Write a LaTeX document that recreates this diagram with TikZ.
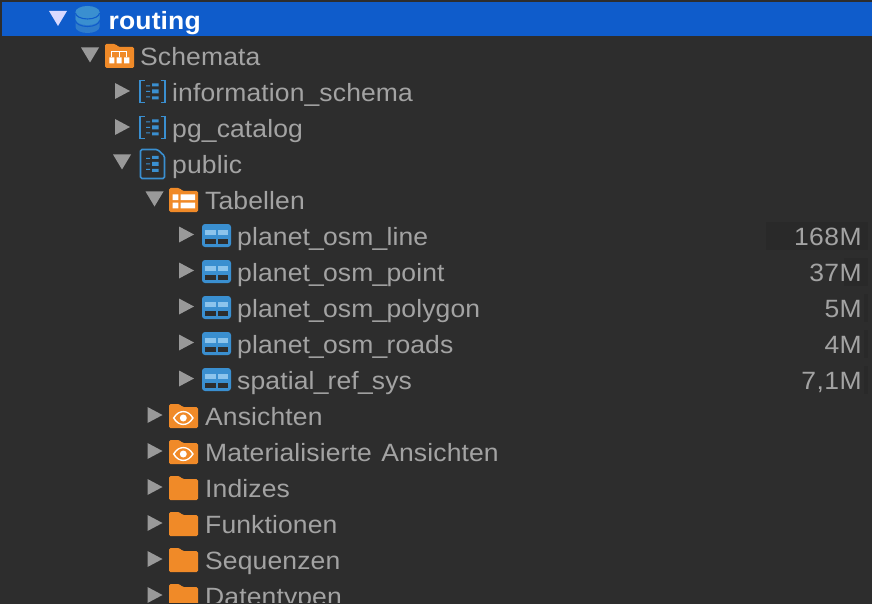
\documentclass[tikz,border=0pt]{standalone}
\usepackage{fontspec}
\setmainfont[FakeStretch=1.06,LetterSpace=0.5]{Liberation Sans}
\newfontfamily\numfont[FakeStretch=1.06,LetterSpace=2]{Liberation Sans}
\newcommand{\usc}{\kern-0.8pt\_\kern-0.8pt}
\definecolor{bg}{HTML}{2D2D2D}
\definecolor{sel}{HTML}{0F5CCB}
\definecolor{txt}{HTML}{A3A3A3}
\definecolor{tri}{HTML}{999999}
\definecolor{org}{HTML}{F08A28}
\definecolor{blu}{HTML}{3A8FD0}
\definecolor{dblu}{HTML}{2F7CCB}
\definecolor{lblu}{HTML}{8CC4EC}
\definecolor{bar}{HTML}{292929}
\tikzset{
 x=1pt,y=-1pt,
 lbl/.style={anchor=base west,inner sep=0pt,text=txt,font=\fontsize{25}{28}\selectfont},
 num/.style={anchor=base east,inner sep=0pt,text=txt,font=\fontsize{25}{28}\selectfont\numfont},
 down/.pic={\fill[tri] (-9,-7)--(9,-7)--(0,8)--cycle;},
 right/.pic={\fill[tri] (-7,-8)--(8,0)--(-7,8)--cycle;},
 folder/.pic={\fill[org,rounded corners=1.5pt] (-14.5,-10)--(-14.5,-13)--(-4,-13)--(-1,-10)--(14.5,-10)--(14.5,11)--(-14.5,11)--cycle;},
 tablei/.pic={\fill[blu,rounded corners=3pt] (-14.5,-11.5) rectangle (14.5,11.5);
   \fill[lblu] (-11.5,-5.5) rectangle (-1,-1); \fill[lblu] (1,-5.5) rectangle (11.5,-1);
   \fill[bg] (-11.5,3) rectangle (-1,8); \fill[bg] (1,3) rectangle (11.5,8);},
 rows/.pic={\fill[blu] (-.5,-8) rectangle (6,-5) (-.5,-2) rectangle (6,2) (-.5,5) rectangle (6,8);
   \fill[blu] (-6.5,-6) rectangle (-2.5,-5) (-6.5,-.5) rectangle (-2.5,.5) (-6.5,5) rectangle (-2.5,6);},
 schemai/.pic={\draw[blu,line width=1.6pt] (-8,-11)--(-12.5,-11)--(-12.5,11)--(-8,11) (8,-11)--(12.5,-11)--(12.5,11)--(8,11); \pic at (0,0) {rows};},
 filei/.pic={\draw[blu,line width=1.6pt,rounded corners=1.5pt] (-12,-14.5)--(5,-14.5)--(12,-8)--(12,14.5)--(-12,14.5)--cycle; \pic at (0,0) {rows};},
 eye/.pic={\fill[white] (-10.5,0) .. controls (-5,-9.5) and (5,-9.5) .. (10.5,0) .. controls (5,9.5) and (-5,9.5) .. (-10.5,0)--cycle;
   \fill[org] (-8.5,0) .. controls (-4,-7.6) and (4,-7.6) .. (8.5,0) .. controls (4,7.6) and (-4,7.6) .. (-8.5,0)--cycle;
   \fill[white] (0,0) circle (3.5);},
}
\begin{document}
\begin{tikzpicture}
\useasboundingbox (0,0) rectangle (872,604);
\fill[bg] (0,0) rectangle (872,604);
\fill[sel] (2,2) rectangle (872,36);
% routing row
\fill[white!85!blue] (49,11)--(67,11)--(58,26)--cycle;
\fill[dblu] (75.5,12) -- (99.5,12) -- (99.5,27) arc[start angle=0,end angle=180,x radius=12,y radius=6] -- cycle;
\fill[blu] (75.5,12) -- (99.5,12) -- (99.5,19) arc[start angle=0,end angle=180,x radius=12,y radius=6] -- cycle;
\fill[blu] (87.5,12) ellipse (12 and 6);
\draw[sel,line width=1.1pt] (75.5,13) arc[start angle=180,end angle=0,x radius=12,y radius=6];
\draw[sel,line width=1.1pt] (75.5,20.5) arc[start angle=180,end angle=0,x radius=12,y radius=6];
\node[lbl,text=white,font=\fontsize{25}{28}\selectfont\bfseries] (routing) at (108.5,30) {routing};
% Schemata
\pic at (90,54.5) {down};
\pic at (119.5,57) {folder};
\fill[white] (109.3,57.3) rectangle (114.3,63.3) (116.7,57.3) rectangle (121.7,63.3) (124,57.3) rectangle (129.3,63.3);
\draw[white,line width=1pt] (111.8,57.3)--(111.8,52)--(126.7,52)--(126.7,57.3) (119.2,52)--(119.2,57.3);
\node[lbl] (schemata) at (140,65.5) {Schemata};
% schemas
\pic at (122,91) {right};
\pic at (152.5,91.5) {schemai};
\node[lbl] (info) at (172,101.5) {information\_schema};
\pic at (122,127) {right};
\pic at (152.5,127.5) {schemai};
\node[lbl] (catalog) at (172,137.5) {pg\_catalog};
\pic at (122,161.5) {down};
\pic at (152.5,164) {filei};
\node[lbl] (public) at (172,173.5) {public};
% Tabellen
\pic at (154.5,198.5) {down};
\pic at (183.5,201) {folder};
\fill[white] (172.7,194.3) rectangle (178.3,200) (180.7,194.3) rectangle (195,200) (172.7,202.7) rectangle (178.3,208.3) (180.7,202.7) rectangle (195,208.3);
\node[lbl] (tabellen) at (205,209.5) {Tabellen};
% tables
\fill[bar] (766,222) rectangle (868,249.5);
\fill[bar] (844,258) rectangle (868,285.5);
\fill[bar] (864,294) rectangle (868,321.5);
\fill[bar] (864,330) rectangle (868,357.5);
\fill[bar] (864,366) rectangle (868,393.5);
\foreach \yy/\nm/\tt/\vv in {237/a/planet\usc osm\usc line/168M,273/b/planet\usc osm\usc point/37M,309/c/planet\usc osm\usc polygon/5M,345/d/planet\usc osm\usc roads/4M,381/e/spatial\usc ref\usc sys/{7,1M}}{
 \pic at (186,\yy-2.5) {right};
 \pic at (216.5,\yy-1.5) {tablei};
 \node[lbl] (t\nm) at (237,\yy+8.5) {\tt};
 \node[num] (v\nm) at (862,\yy+8.5) {\vv};
}
% lower folders
\begin{scope}
\clip (0,0) rectangle (872,602);
\foreach \yy/\nm/\tt in {417/f/Ansichten,453/g/Materialisierte\hspace{2pt} Ansichten,489/h/Indizes,525/i/Funktionen,561/j/Sequenzen,597/k/Datentypen}{
 \pic at (154.5,\yy-2) {right};
 \pic at (183.5,\yy) {folder};
 \node[lbl] (l\nm) at (205,\yy+8.5) {\tt};
}
\pic at (183.3,418) {eye};
\pic at (183.3,454) {eye};
\end{scope}
\end{tikzpicture}
\end{document}
